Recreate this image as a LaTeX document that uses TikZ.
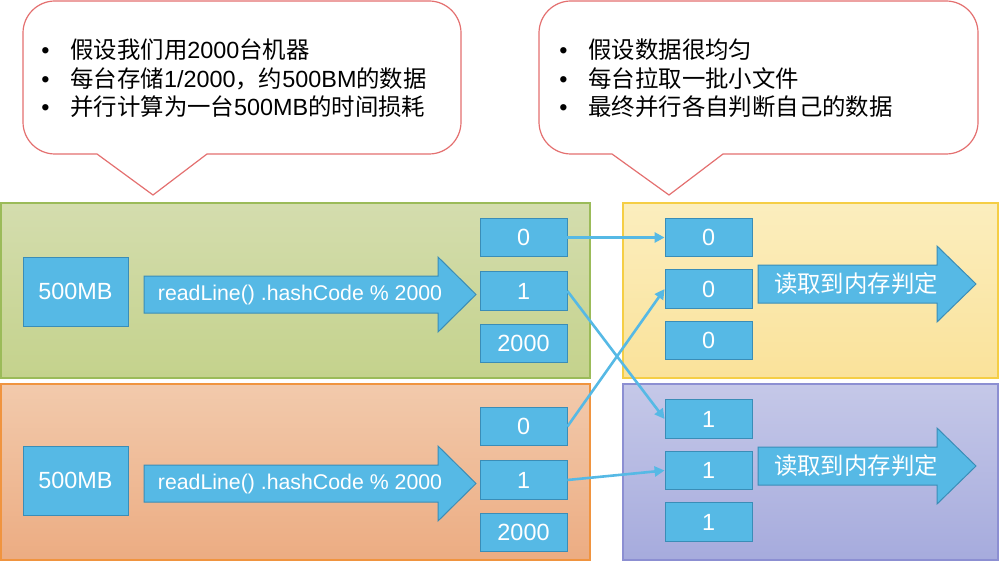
\documentclass[tikz,border=0pt]{standalone}
\usepackage{fontspec}
\setmainfont{Liberation Sans}
\newfontfamily\cjk{Noto Sans CJK SC}
\usetikzlibrary{arrows.meta}

\definecolor{boxblue}{HTML}{56B9E5}
\definecolor{boxline}{HTML}{3A8DB7}
\definecolor{calloutred}{HTML}{E47070}
\definecolor{greentop}{HTML}{D4DDAE}
\definecolor{greenbot}{HTML}{C4D28C}
\definecolor{greenline}{HTML}{9BBB59}
\definecolor{orangetop}{HTML}{F2CAAC}
\definecolor{orangebot}{HTML}{ECAC82}
\definecolor{orangeline}{HTML}{F0943F}
\definecolor{yellowtop}{HTML}{FBEEBE}
\definecolor{yellowbot}{HTML}{FAE29A}
\definecolor{yellowline}{HTML}{F5CE45}
\definecolor{purpletop}{HTML}{C5C8E8}
\definecolor{purplebot}{HTML}{A6ABDD}
\definecolor{purpleline}{HTML}{8C8FD2}

\newcommand\calbullet{\makebox[14.5pt][l]{•}}

\tikzset{
  bucket/.style={rectangle,draw=boxline,fill=boxblue,text=white,
    minimum width=43.5pt,minimum height=19.25pt,inner sep=0pt,
    font=\fontsize{11.7}{14}\selectfont},
  srcbox/.style={bucket,minimum width=52.5pt,minimum height=34.5pt},
  blockarrow/.style={draw=boxline,fill=boxblue,line width=0.5pt},
  arrowtext/.style={text=white,inner sep=0pt},
  link/.style={draw=boxblue,line width=1.3pt,-{Triangle[length=5pt,width=5pt]}},
  callout/.style={draw=calloutred,line width=0.6pt,fill=white},
  callouttext/.style={anchor=west,align=left,inner sep=0pt,
    font=\fontsize{11.7}{14.25}\selectfont},
  panel/.style={line width=1pt}
}

\begin{document}
\begin{tikzpicture}[x=0.5pt,y=-0.5pt]
  \useasboundingbox (0,0) rectangle (999,561);

  % callouts
  \draw[callout] (153,195) -- (97,154) [rounded corners=16pt] -- (23,154) -- (23,1)
    -- (461,1) -- (461,154) [sharp corners] -- (207,154) -- cycle;
  \draw[callout] (669,195) -- (612,154) [rounded corners=16pt] -- (539,154) -- (539,1)
    -- (978,1) -- (978,154) [sharp corners] -- (723,154) -- cycle;
  \node[callouttext] (noteL) at (41,78.5)
    {\calbullet{\cjk 假设我们用}2000{\cjk 台机器}\\
     \calbullet{\cjk 每台存储}1/2000{\cjk ，约}500BM{\cjk 的数据}\\
     \calbullet{\cjk 并行计算为一台}500MB{\cjk 的时间损耗}};
  \node[callouttext] (noteR) at (559,78.5)
    {\calbullet{\cjk 假设数据很均匀}\\
     \calbullet{\cjk 每台拉取一批小文件}\\
     \calbullet{\cjk 最终并行各自判断自己的数据}};

  % panels
  \draw[panel,draw=greenline,top color=greentop,bottom color=greenbot] (1,203) rectangle (590,378);
  \draw[panel,draw=orangeline,top color=orangetop,bottom color=orangebot] (1,384) rectangle (590,560);
  \draw[panel,draw=yellowline,top color=yellowtop,bottom color=yellowbot] (623,203) rectangle (998,378);
  \draw[panel,draw=purpleline,top color=purpletop,bottom color=purplebot] (623,384) rectangle (998,560);

  % hashing side
  \node[srcbox] (src0) at (75.5,291.5) {500MB};
  \node[srcbox] (src1) at (75.5,480.5) {500MB};
  \draw[blockarrow] (144,276) -- (438,276) -- (438,257) -- (476,294.5)
    -- (438,332) -- (438,313) -- (144,313) -- cycle;
  \draw[blockarrow] (144,465) -- (438,465) -- (438,446) -- (476,483.5)
    -- (438,521) -- (438,502) -- (144,502) -- cycle;
  \node[arrowtext,font=\fontsize{10.65}{12}\selectfont] (hash0) at (300,295) {readLine() .hashCode \% 2000};
  \node[arrowtext,font=\fontsize{10.65}{12}\selectfont] (hash1) at (300,484) {readLine() .hashCode \% 2000};

  \node[bucket] (g0) at (523.5,237.5) {0};
  \node[bucket] (g1) at (523.5,291) {1};
  \node[bucket] (g2) at (523.5,343.5) {2000};
  \node[bucket] (o0) at (523.5,426.5) {0};
  \node[bucket] (o1) at (523.5,480) {1};
  \node[bucket] (o2) at (523.5,532.5) {2000};

  % reading side
  \node[bucket] (y0) at (708.5,237.5) {0};
  \node[bucket] (y1) at (708.5,289) {0};
  \node[bucket] (y2) at (708.5,340.5) {0};
  \node[bucket] (p0) at (708.5,419) {1};
  \node[bucket] (p1) at (708.5,470.5) {1};
  \node[bucket] (p2) at (708.5,522) {1};
  \draw[blockarrow] (758,265) -- (937,265) -- (937,246) -- (976,284)
    -- (937,322) -- (937,303) -- (758,303) -- cycle;
  \draw[blockarrow] (758,447) -- (937,447) -- (937,428) -- (976,466)
    -- (937,504) -- (937,485) -- (758,485) -- cycle;
  \node[arrowtext,font=\fontsize{11.7}{14}\selectfont\cjk] (load0) at (856,284) {读取到内存判定};
  \node[arrowtext,font=\fontsize{11.7}{14}\selectfont\cjk] (load1) at (856,466) {读取到内存判定};

  \draw[link] (g0.east) -- (y0.west);
  \draw[link] (g1.east) -- (p0.west);
  \draw[link] (o0.east) -- (y1.west);
  \draw[link] (o1.east) -- (p1.west);
\end{tikzpicture}
\end{document}
